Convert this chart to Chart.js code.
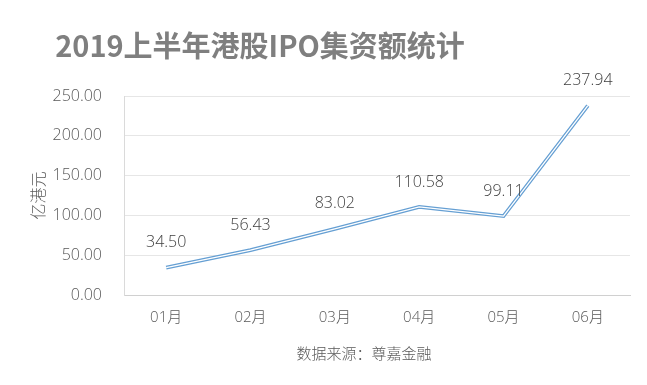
<!DOCTYPE html>
<html>
<head>
<meta charset="utf-8">
<script src="https://cdn.jsdelivr.net/npm/chart.js@4.4.0/dist/chart.umd.min.js"></script>
<style>
  html, body { margin: 0; padding: 0; background: #fff; }
  #wrap { width: 647px; height: 385px; }
</style>
</head>
<body>
<div id="wrap"><canvas id="chart-ipo" width="647" height="385"></canvas></div>
<script>
// 2019上半年港股IPO集资额 (亿港元)
const months = ['01月', '02月', '03月', '04月', '05月', '06月'];
const amounts = [34.50, 56.43, 83.02, 110.58, 99.11, 237.94];
const yTicks = [0, 50, 100, 150, 200, 250];

const chartTitle = '2019上半年港股IPO集资额统计';
const sourceNote = '数据来源：尊嘉金融';
const yAxisTitle = '亿港元';

const TEXT_FONT = "'Open Sans', 'Noto Sans CJK SC', sans-serif";
const CJK_FONT = "'Noto Sans CJK SC', 'Open Sans', sans-serif";

// value labels above each point + title and source note
const labelPlugin = {
  id: 'labelPlugin',
  afterDatasetsDraw(chart) {
    const { ctx } = chart;
    const meta = chart.getDatasetMeta(1);
    ctx.save();
    ctx.fillStyle = '#404040';
    ctx.font = '300 16px ' + TEXT_FONT;
    ctx.textAlign = 'center';
    ctx.textBaseline = 'middle';
    meta.data.forEach((pt, i) => {
      ctx.fillText(amounts[i].toFixed(2), pt.x, pt.y - 25);
    });
    ctx.restore();
  },
  afterDraw(chart) {
    const { ctx } = chart;
    ctx.save();
    ctx.textAlign = 'center';
    ctx.textBaseline = 'middle';
    ctx.fillStyle = '#7f7f7f';
    ctx.font = 'bold 29px ' + CJK_FONT;
    ctx.fillText(chartTitle, 260, 46);
    ctx.fillStyle = '#595959';
    ctx.font = '300 15px ' + CJK_FONT;
    ctx.fillText(sourceNote, 364, 353);
    ctx.restore();
  }
};

new Chart(document.getElementById('chart-ipo'), {
  type: 'line',
  data: {
    labels: months,
    datasets: [
      {
        // white core -> gives the double-line look
        data: amounts,
        borderColor: '#ffffff',
        borderWidth: 1.3,
        pointRadius: 0,
        tension: 0,
        order: 0
      },
      {
        data: amounts,
        borderColor: '#659fd3',
        borderWidth: 3.8,
        pointRadius: 0,
        tension: 0,
        order: 1
      }
    ]
  },
  options: {
    responsive: false,
    animation: false,
    layout: { padding: { top: 96, right: 17, left: 0, bottom: 0 } },
    plugins: {
      legend: { display: false },
      tooltip: { enabled: false },
      title: { display: false }
    },
    scales: {
      x: {
        offset: true,
        grid: { drawOnChartArea: false, drawTicks: false },
        border: { color: '#d0d0d0', width: 1 },
        ticks: {
          color: '#595959',
          padding: 14,
          font: { family: TEXT_FONT, size: 15, weight: 300 }
        },
        afterFit: (scale) => { scale.height = 90; }
      },
      y: {
        min: 0,
        max: 250,
        afterBuildTicks: (scale) => { scale.ticks = yTicks.map(v => ({ value: v })); },
        grid: { color: '#e6e6e6', drawTicks: false },
        border: { color: '#dadada', width: 1 },
        ticks: {
          color: '#595959',
          padding: 22,
          font: { family: TEXT_FONT, size: 16, weight: 300 },
          callback: (v) => Number(v).toFixed(2)
        },
        title: {
          display: true,
          text: yAxisTitle,
          color: '#595959',
          padding: { top: 28, bottom: 0 },
          font: { family: CJK_FONT, size: 16, weight: 300 }
        },
        afterFit: (scale) => { scale.width = 124; }
      }
    }
  },
  plugins: [labelPlugin]
});
</script>
</body>
</html>
